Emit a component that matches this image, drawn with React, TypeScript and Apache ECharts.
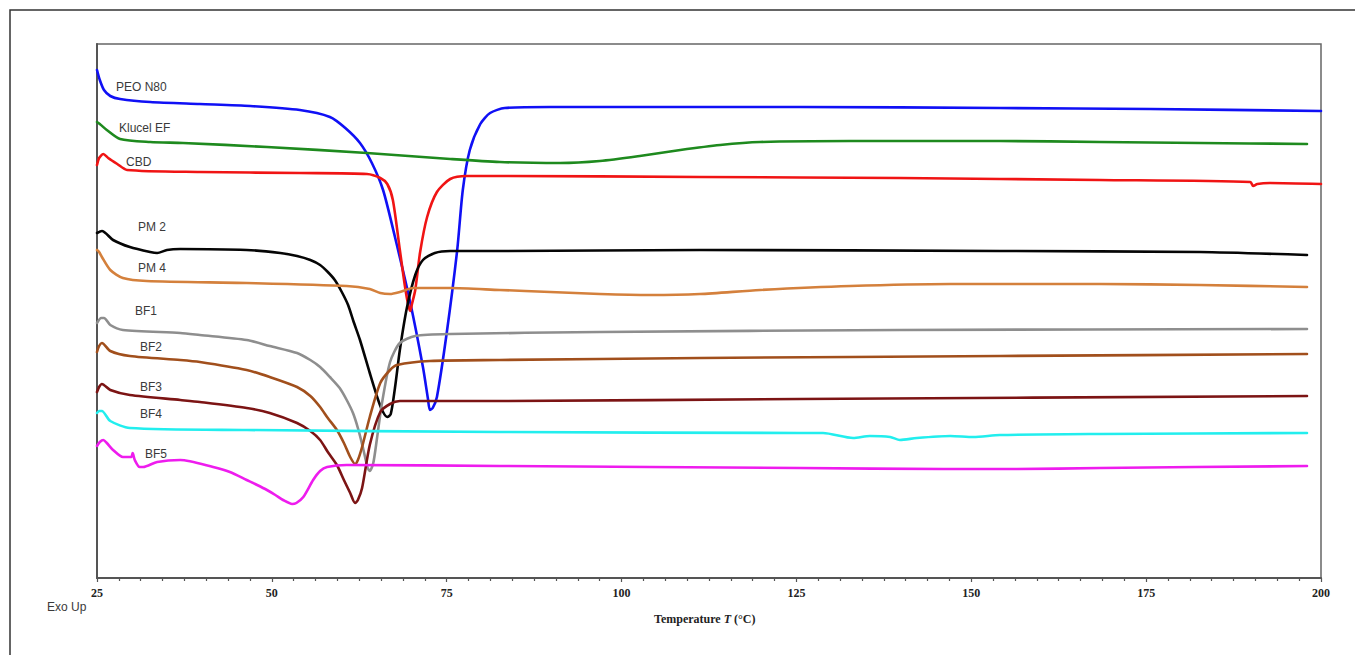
import React, { useEffect, useRef } from "react";
import * as echarts from "echarts";

// Temperature (°C) and heat-flow (arbitrary units, Exo Up)
const peoN80: [number, number][] = [
  [25.0, 5.08], [25.4, 4.98], [26.0, 4.88], [26.9, 4.82], [28.3, 4.79], [32.6, 4.76], [39.7, 4.74],
  [46.9, 4.72], [54.0, 4.68], [58.3, 4.61], [60.5, 4.50], [62.6, 4.35], [64.3, 4.15], [65.9, 3.88],
  [67.6, 3.41], [69.8, 2.75], [71.6, 2.11], [72.3, 1.80], [72.6, 1.68], [73.0, 1.70], [73.6, 1.81],
  [75.0, 2.45], [76.5, 3.28], [77.3, 3.88], [78.3, 4.28], [79.8, 4.54], [81.2, 4.65], [83.3, 4.70],
  [89.8, 4.71], [125.5, 4.71], [154.1, 4.70], [175.6, 4.69], [200.0, 4.67],
];
const klucelEF: [number, number][] = [
  [25.0, 4.56], [25.4, 4.54], [26.4, 4.48], [28.3, 4.39], [32.6, 4.36], [37.3, 4.35], [49.3, 4.31],
  [63.6, 4.25], [75.5, 4.19], [82.6, 4.16], [91.2, 4.15], [96.9, 4.17], [102.6, 4.22], [108.4, 4.28],
  [114.1, 4.33], [119.8, 4.36], [132.7, 4.37], [154.1, 4.37], [168.4, 4.36], [182.7, 4.35], [198.0, 4.34],
];
const cbd: [number, number][] = [
  [25.0, 4.13], [25.3, 4.20], [25.9, 4.24], [26.6, 4.20], [27.9, 4.14], [29.3, 4.08], [39.7, 4.06],
  [54.0, 4.05], [63.6, 4.04], [65.5, 4.00], [66.5, 3.94], [67.3, 3.78], [68.3, 3.28], [69.0, 2.93],
  [69.5, 2.73], [69.8, 2.67], [70.0, 2.73], [70.5, 2.88], [71.2, 3.26], [72.2, 3.61], [73.6, 3.86],
  [75.5, 3.99], [77.9, 4.02], [82.6, 4.02], [111.2, 4.01], [139.8, 4.00], [168.4, 3.98], [189.9, 3.96],
  [190.3, 3.92], [190.9, 3.94], [192.7, 3.95], [200.0, 3.94],
];
const pm2: [number, number][] = [
  [25.0, 3.45], [25.7, 3.47], [27.3, 3.38], [29.7, 3.31], [32.6, 3.26], [33.6, 3.25], [35.0, 3.28],
  [36.9, 3.29], [46.4, 3.28], [51.2, 3.25], [53.6, 3.22], [55.5, 3.18], [56.9, 3.13], [58.0, 3.06],
  [59.0, 2.98], [60.0, 2.86], [60.9, 2.73], [61.7, 2.56], [62.6, 2.38], [64.0, 2.05], [65.2, 1.78],
  [65.9, 1.66], [66.5, 1.61], [67.0, 1.64], [67.6, 1.90], [68.3, 2.28], [69.3, 2.70], [70.5, 3.03],
  [71.6, 3.18], [73.3, 3.25], [75.5, 3.27], [82.6, 3.27], [111.2, 3.28], [154.1, 3.27], [182.7, 3.26],
  [198.0, 3.23],
];
const pm4: [number, number][] = [
  [25.0, 3.28], [25.3, 3.26], [25.7, 3.21], [26.9, 3.08], [28.7, 3.00], [32.1, 2.97], [46.4, 2.95],
  [60.7, 2.92], [64.0, 2.89], [65.5, 2.85], [66.9, 2.84], [68.3, 2.86], [70.2, 2.90], [75.5, 2.90],
  [82.6, 2.88], [89.8, 2.86], [96.9, 2.84], [104.1, 2.83], [111.2, 2.84], [119.8, 2.88], [132.7, 2.92],
  [147.0, 2.94], [168.4, 2.94], [182.7, 2.93], [198.0, 2.91],
];
const bf1: [number, number][] = [
  [25.0, 2.55], [25.6, 2.60], [26.0, 2.60], [26.9, 2.53], [28.7, 2.48], [36.9, 2.45], [39.7, 2.43],
  [46.4, 2.38], [49.7, 2.32], [53.6, 2.25], [55.5, 2.18], [56.9, 2.11], [58.3, 2.01], [59.7, 1.90],
  [60.7, 1.78], [61.6, 1.65], [62.3, 1.50], [63.0, 1.31], [63.7, 1.10], [64.0, 1.07], [64.5, 1.15],
  [65.0, 1.38], [65.7, 1.73], [66.9, 2.16], [68.3, 2.35], [70.5, 2.42], [75.5, 2.44], [96.9, 2.46],
  [139.8, 2.48], [198.0, 2.49],
];
const bf2: [number, number][] = [
  [25.0, 2.26], [25.3, 2.32], [25.7, 2.35], [26.9, 2.27], [29.7, 2.22], [36.9, 2.18], [39.7, 2.16],
  [46.4, 2.08], [49.7, 2.01], [53.6, 1.91], [55.5, 1.82], [56.9, 1.71], [58.0, 1.60], [59.3, 1.48],
  [60.3, 1.35], [61.2, 1.21], [61.9, 1.14], [62.3, 1.18], [62.9, 1.31], [64.0, 1.61], [65.5, 1.95],
  [66.9, 2.08], [67.9, 2.13], [72.6, 2.17], [82.6, 2.18], [111.2, 2.20], [154.1, 2.22], [198.0, 2.24],
];
const bf3: [number, number][] = [
  [25.0, 1.86], [25.3, 1.91], [25.7, 1.94], [26.9, 1.88], [29.7, 1.83], [36.9, 1.78], [39.7, 1.76],
  [46.4, 1.70], [49.7, 1.65], [53.6, 1.55], [55.5, 1.47], [56.9, 1.38], [58.0, 1.26], [59.3, 1.13],
  [60.3, 0.98], [61.2, 0.85], [61.9, 0.75], [62.3, 0.78], [62.9, 0.90], [64.0, 1.33], [65.5, 1.66],
  [66.9, 1.74], [68.3, 1.77], [82.6, 1.77], [125.5, 1.79], [198.0, 1.82],
];
const bf4: [number, number][] = [
  [25.0, 1.65], [25.3, 1.67], [25.7, 1.67], [26.9, 1.57], [29.7, 1.50], [46.4, 1.48], [82.6, 1.46],
  [125.5, 1.45], [128.8, 1.45], [133.1, 1.40], [135.5, 1.42], [138.4, 1.41], [139.8, 1.38], [142.2, 1.40],
  [147.0, 1.42], [150.3, 1.41], [154.1, 1.43], [168.4, 1.44], [198.0, 1.45],
];
const bf5: [number, number][] = [
  [25.0, 1.32], [25.4, 1.36], [25.9, 1.38], [26.4, 1.35], [27.3, 1.28], [28.7, 1.21], [29.9, 1.21],
  [30.1, 1.25], [30.4, 1.18], [31.1, 1.11], [31.6, 1.11], [33.6, 1.16], [36.9, 1.18], [41.6, 1.11],
  [44.0, 1.06], [46.4, 0.98], [47.9, 0.93], [49.3, 0.88], [50.5, 0.83], [51.6, 0.78], [52.9, 0.74],
  [53.5, 0.75], [54.5, 0.81], [55.9, 0.98], [56.9, 1.07], [57.9, 1.11], [60.7, 1.13], [82.6, 1.12],
  [125.5, 1.10], [146.0, 1.09], [156.5, 1.09], [168.4, 1.10], [198.0, 1.12],
];

const seriesNames = ["PEO N80", "Klucel EF", "CBD", "PM 2", "PM 4", "BF1", "BF2", "BF3", "BF4", "BF5"];
const seriesData = [peoN80, klucelEF, cbd, pm2, pm4, bf1, bf2, bf3, bf4, bf5];
const xTicks = [25, 50, 75, 100, 125, 150, 175, 200];

const colors = ["#1010f5", "#1e8a1e", "#f01414", "#050505", "#d4803c", "#8e8e8e", "#a14f1c", "#7c1414", "#22eeee", "#ee1cee"];
const labelPos: [number, number][] = [
  [116, 88], [119, 129], [126, 163], [138, 228], [138, 269], [135, 312], [140, 348], [140, 388], [140, 415], [145, 455],
];

export default function App() {
  const ref = useRef<HTMLDivElement>(null);
  useEffect(() => {
    if (!ref.current) return;
    const chart = echarts.init(ref.current, undefined, { renderer: "svg" });
    const labelEls: any[] = seriesNames.map((n, i) => ({
      type: "text",
      left: labelPos[i][0],
      top: labelPos[i][1] - 7,
      style: { text: n, fill: "#3a3a3a", font: "12px 'Liberation Sans', Arial, sans-serif" },
    }));
    chart.setOption({
      animation: false,
      backgroundColor: "#ffffff",
      grid: { left: 97, right: 34, top: 44, bottom: 77, show: true, borderColor: "#666", borderWidth: 1.5 },
      xAxis: {
        type: "value",
        min: xTicks[0],
        max: xTicks[xTicks.length - 1],
        interval: 25,
        axisLine: { show: true, lineStyle: { color: "#555", width: 2 } },
        axisTick: { show: true, inside: false, length: 4, lineStyle: { color: "#555", width: 1.2 } },
        minorTick: { show: true, splitNumber: 8, length: 3, lineStyle: { color: "#555", width: 1.2 } },
        splitLine: { show: false },
        axisLabel: {
          margin: 9,
          color: "#222",
          fontFamily: "'Liberation Serif', 'Times New Roman', serif",
          fontWeight: "bold",
          fontSize: 12,
        },
      },
      yAxis: {
        type: "value",
        min: 0,
        max: 5.34,
        axisLine: { show: true, lineStyle: { color: "#555", width: 2 } },
        axisTick: { show: false },
        axisLabel: { show: false },
        splitLine: { show: false },
      },
      series: seriesData.map((d, i) => ({
        name: seriesNames[i],
        type: "line",
        data: d,
        showSymbol: false,
        smooth: 0.25,
        lineStyle: { color: colors[i], width: 2.6, cap: "round", join: "round" },
        itemStyle: { color: colors[i] },
        z: 2 + i,
      })),
      graphic: [
        {
          type: "rect",
          shape: { x: 10, y: 10, width: 1400, height: 700 },
          style: { fill: "none", stroke: "#333", lineWidth: 1.5 },
          silent: true,
        },
        ...labelEls,
        {
          type: "text",
          left: 47,
          top: 601,
          style: { text: "Exo Up", fill: "#3a3a3a", font: "12px 'Liberation Sans', Arial, sans-serif" },
        },
        {
          type: "text",
          left: 654,
          top: 613,
          style: {
            text: "{b|Temperature }{i|T}{b| (°C)}",
            rich: {
              b: { fontFamily: "'Liberation Serif', 'Times New Roman', serif", fontWeight: "bold", fontSize: 12, fill: "#222" },
              i: { fontFamily: "'Liberation Serif', 'Times New Roman', serif", fontWeight: "bold", fontStyle: "italic", fontSize: 12, fill: "#222" },
            },
          },
        },
      ],
    });
    return () => chart.dispose();
  }, []);
  return (
    <div
      ref={ref}
      style={{ position: "absolute", left: 0, top: 0, width: 1355, height: 655, background: "#fff" }}
    />
  );
}
